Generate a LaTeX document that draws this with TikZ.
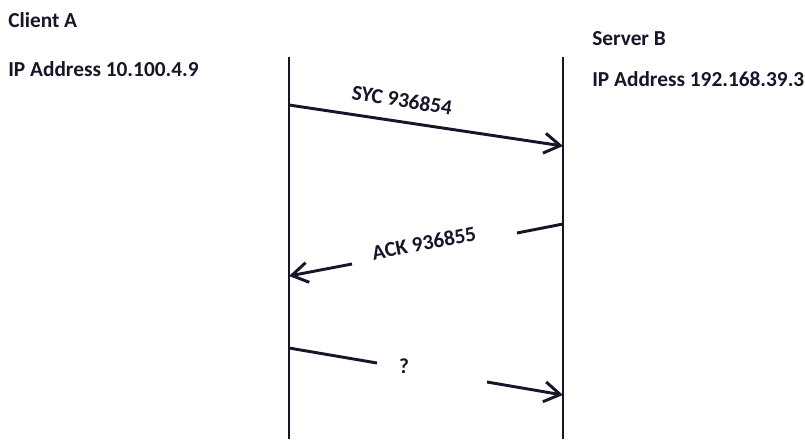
\documentclass[tikz,border=0pt]{standalone}
\usepackage{fontspec}
\setmainfont{Carlito}
\usetikzlibrary{arrows.meta}
\definecolor{ink}{HTML}{16162A}
\begin{document}
\begin{tikzpicture}[x=0.75pt,y=-0.75pt,
  lbl/.style={font=\bfseries\fontsize{16}{19}\selectfont, text=ink, inner sep=0pt},
  life/.style={draw=ink, line width=2.2pt},
  msg/.style={draw=ink, line width=2.2pt},
  msgarrow/.style={msg, -{Straight Barb[length=12pt,width=15pt,line width=2.2pt]}}]
\useasboundingbox (0,0) rectangle (805,439);
% texts
\node[lbl, anchor=west] (ca) at (8,20) {Client A};
\node[lbl, anchor=west] (ipa) at (8,69) {IP Address 10.100.4.9};
\node[lbl, anchor=west] (sb) at (592,39) {Server B};
\node[lbl, anchor=west] (ipb) at (592,79) {IP Address 192.168.39.3};
% lifelines
\coordinate (at) at (289,57);
\coordinate (ab) at (289,439);
\coordinate (bt) at (563,57);
\coordinate (bb) at (563,439);
\draw[life] (at) -- (ab);
\draw[life] (bt) -- (bb);
% message 1
\coordinate (m1s) at (289,105);
\coordinate (m1e) at (563,146);
\draw[msgarrow] (m1s) -- (m1e);
\node[lbl, rotate=-9] (syc) at (402,100) {SYC 936854};
% message 2
\coordinate (m2s) at (563,224);
\coordinate (m2a) at (517,233);
\coordinate (m2b) at (352,264);
\coordinate (m2e) at (289,276);
\draw[msg] (m2s) -- (m2a);
\draw[msgarrow] (m2b) -- (m2e);
\node[lbl, rotate=11] (ack) at (424,243) {ACK 936855};
% message 3
\coordinate (m3s) at (289,348);
\coordinate (m3a) at (377,363);
\coordinate (m3b) at (487,382);
\coordinate (m3e) at (563,395);
\draw[msg] (m3s) -- (m3a);
\draw[msgarrow] (m3b) -- (m3e);
\node[lbl] (q) at (404,366) {?};
\end{tikzpicture}
\end{document}
